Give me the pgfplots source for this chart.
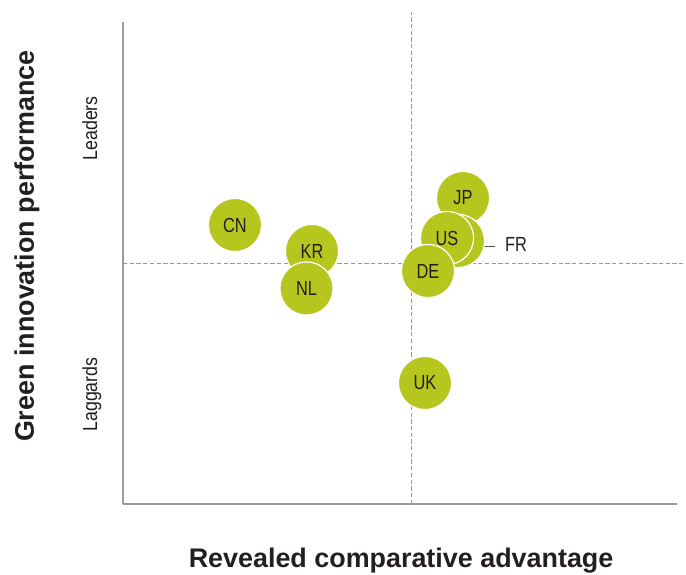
\documentclass[border=0pt]{standalone}
\usepackage{pgfplots}
\pgfplotsset{compat=1.18}
\usepackage{fontspec}
\setmainfont{Liberation Sans}
\newfontfamily\cond[FakeStretch=0.8]{Liberation Sans}
\newfontfamily\condw[FakeStretch=0.87]{Liberation Sans}
\definecolor{lime}{RGB}{182,198,30}
\definecolor{txt}{RGB}{35,31,32}
\definecolor{axisgray}{RGB}{155,155,155}
\definecolor{dashgray}{RGB}{150,150,150}
\begin{document}
\begin{tikzpicture}
\begin{axis}[
  at={(123bp,71bp)}, anchor=south west,
  scale only axis, width=554bp, height=482bp,
  xmin=0, xmax=554, ymin=0, ymax=482,
  axis lines=left,
  axis line style={-, draw=axisgray, line width=2.6bp},
  xtick=\empty, ytick=\empty,
  clip=false,
  xlabel={Revealed comparative advantage},
  ylabel={Green innovation performance},
  every axis x label/.style={at={(axis description cs:0.502,0)}, yshift=-57bp, anchor=center,
     font=\bfseries\fontsize{27}{30}\selectfont, text=txt},
  every axis y label/.style={at={(axis description cs:0,0.535)}, xshift=-96bp, rotate=90, anchor=center,
     font=\bfseries\fontsize{27}{30}\selectfont, text=txt},
]
% quadrant dividers
\addplot[dashgray, line width=1bp, dash pattern=on 4.3bp off 2.4bp] coordinates {(288,0) (288,492)};
\addplot[dashgray, line width=1bp, dash pattern=on 4.3bp off 2.4bp] coordinates {(0,240) (560,240)};
% bubbles
\addplot[only marks, mark=*, mark size=26.6bp,
  mark options={fill=lime, draw=white, line width=1.2bp},
  point meta=explicit symbolic,
  nodes near coords={\pgfplotspointmeta},
  nodes near coords align={center},
  every node near coord/.append style={anchor=center, font=\cond\fontsize{20.5}{20}\selectfont, text=txt},
] table[meta=label] {
x y label
112 279 CN
189 253 KR
183.5 215.5 NL
340 306 JP
};
\addplot[only marks, mark=*, mark size=26.6bp,
  mark options={fill=lime, draw=white, line width=1.2bp}] table {
x y
335 263
};
\addplot[only marks, mark=*, mark size=26.6bp,
  mark options={fill=lime, draw=white, line width=1.2bp},
  point meta=explicit symbolic,
  nodes near coords={\pgfplotspointmeta},
  nodes near coords align={center},
  every node near coord/.append style={anchor=center, font=\cond\fontsize{20.5}{20}\selectfont, text=txt},
] table[meta=label] {
x y label
324 266 US
305 233 DE
302 121 UK
};
\draw[txt!80, line width=0.6bp] (axis cs:361,258) -- (axis cs:372,258);
\node[anchor=west, inner sep=0pt, font=\cond\fontsize{20.5}{20}\selectfont, text=txt] at (axis cs:382,259.5) {FR};
\node[rotate=90, anchor=base, inner sep=0pt, font=\condw\fontsize{20.5}{20}\selectfont, text=txt] at (axis cs:-26,375.7) {Leaders};
\node[rotate=90, anchor=base, inner sep=0pt, font=\condw\fontsize{20.5}{20}\selectfont, text=txt] at (axis cs:-26,109.5) {Laggards};
\end{axis}
\pgfresetboundingbox
\path (0,0) rectangle (686bp,575bp);
\end{tikzpicture}
\end{document}
